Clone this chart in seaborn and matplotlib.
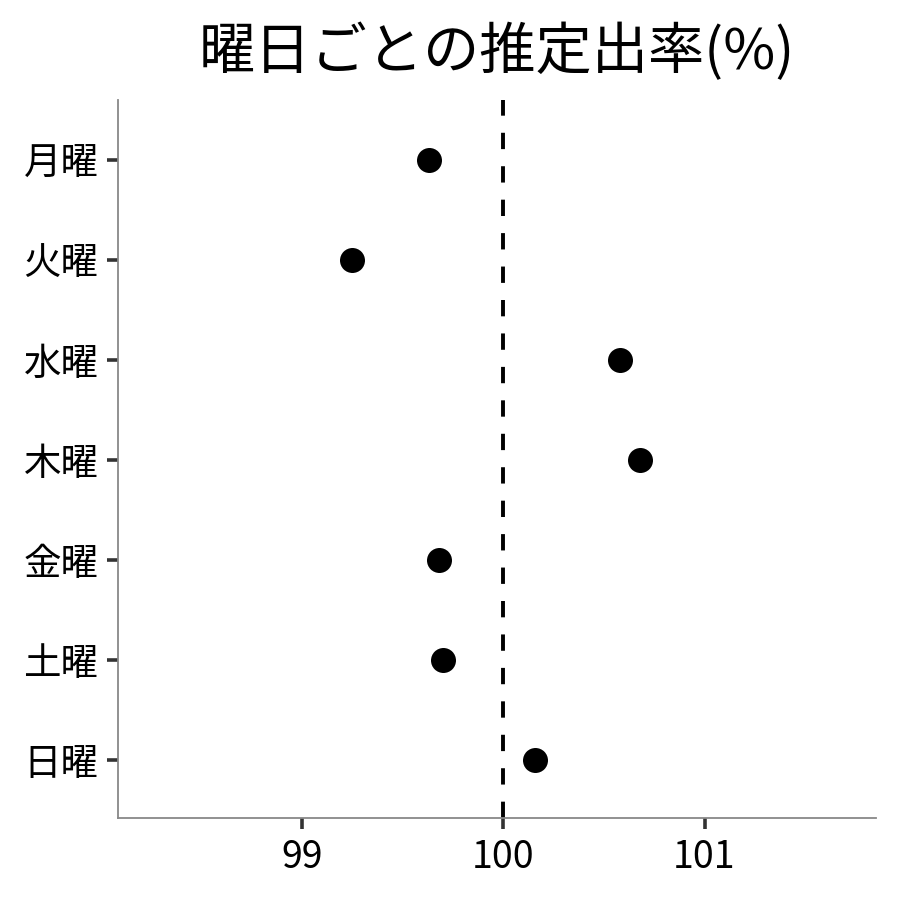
import seaborn as sns
import matplotlib.pyplot as plt
import pandas as pd

days = ["月曜", "火曜", "水曜", "木曜", "金曜", "土曜", "日曜"]
rates = [99.63, 99.25, 100.58, 100.68, 99.68, 99.70, 100.16]
xticks = [99, 100, 101]

sns.set_theme(style="white")
plt.rcParams['font.family'] = ['Noto Sans CJK JP', 'DejaVu Sans']
plt.rcParams['text.color'] = 'black'

df = pd.DataFrame({"day": days, "rate": rates})

fig = plt.figure(figsize=(9, 9), dpi=100)
ax = fig.add_axes([0.131, 0.091, 0.842, 0.798])

ax.axvline(100, color="black", linestyle=(0, (4.2, 4.4)), linewidth=2.8, zorder=1)
sns.stripplot(data=df, x="rate", y="day", order=days, jitter=False,
              color="black", size=18, linewidth=0, ax=ax, zorder=3)

ax.set_xlim(98.087, 101.85)
ax.set_ylim(6.58, -0.6)
ax.set_xticks(xticks)
ax.set_xticklabels([str(t) for t in xticks])
ax.set_xlabel("")
ax.set_ylabel("")
ax.set_title("曜日ごとの推定出率(%)", fontsize=40.5, pad=22, color="black")

sns.despine(ax=ax)
for side in ["left", "bottom"]:
    ax.spines[side].set_color("#888888")
    ax.spines[side].set_linewidth(1.3)
ax.tick_params(axis="both", which="major", direction="out", length=8, width=2.6,
               color="#333333", labelsize=27, labelcolor="black", pad=6,
               left=True, bottom=True)

fig.savefig("out.png", dpi=100)
